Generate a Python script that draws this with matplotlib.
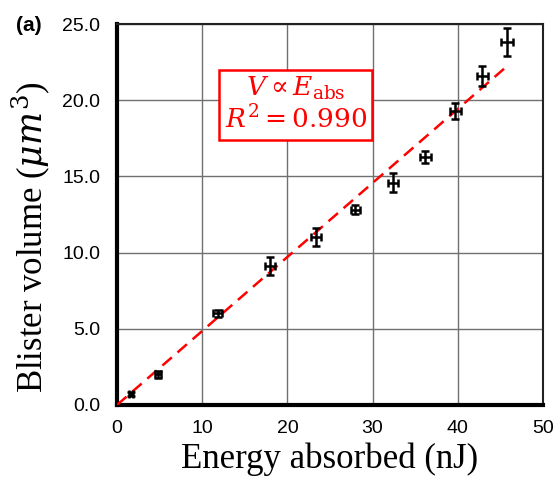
import numpy as np
import matplotlib.pyplot as plt
from matplotlib.ticker import FormatStrFormatter

plt.rcParams['mathtext.fontset'] = 'dejavuserif'

# 数据：吸收能量 (nJ) 与 气泡体积 (um^3)
energy = [1.6, 4.8, 11.8, 18.0, 23.4, 28.0, 32.4, 36.2, 39.7, 42.9, 45.8]
volume = [0.7, 2.0, 6.0, 9.1, 11.0, 12.8, 14.6, 16.3, 19.3, 21.6, 23.8]
energy_err = [0.25, 0.4, 0.55, 0.58, 0.58, 0.5, 0.62, 0.64, 0.65, 0.68, 0.7]
volume_err = [0.12, 0.25, 0.25, 0.6, 0.6, 0.3, 0.64, 0.4, 0.5, 0.68, 0.92]
r2_text = '0.990'

x = np.array(energy)
y = np.array(volume)
# 过原点线性拟合
slope = np.sum(x * y) / np.sum(x * x)

fig = plt.figure(figsize=(5.55, 4.82), dpi=100)
ax = fig.add_axes([0.211, 0.160, 0.767, 0.790])

xf = np.linspace(0, max(energy) - 0.3, 50)
ax.plot(xf, slope * xf, color='red', linestyle=(0, (5, 3)), linewidth=1.8, zorder=3)

ax.errorbar(energy, volume, xerr=energy_err, yerr=volume_err, fmt='none',
            ecolor='black', elinewidth=1.8, capsize=3, capthick=1.8, zorder=4)

ax.set_xlim(0, 50)
ax.set_ylim(0, 25)
ax.set_xticks(np.arange(0, 51, 10))
ax.set_yticks(np.arange(0, 25.1, 5))
ax.yaxis.set_major_formatter(FormatStrFormatter('%.1f'))
ax.grid(True, color='#707070', linewidth=1.0)
ax.set_axisbelow(True)
ax.tick_params(axis='y', length=0, pad=12, labelsize=14)
ax.tick_params(axis='x', length=0, pad=11, labelsize=14)
for lab in ax.get_xticklabels() + ax.get_yticklabels():
    lab.set_fontfamily('Liberation Sans')

ax.spines['left'].set_linewidth(3)
ax.spines['bottom'].set_linewidth(3)
ax.spines['top'].set_linewidth(1.5)
ax.spines['right'].set_linewidth(1.5)
ax.spines['top'].set_color('#222222')
ax.spines['right'].set_color('#222222')

ax.set_xlabel('Energy absorbed (nJ)', fontfamily='Liberation Serif', fontsize=25, labelpad=4)
ax.set_ylabel(r'Blister volume ($\mu m^3$)', fontfamily='Liberation Serif', fontsize=25)
ax.yaxis.set_label_coords(-0.154, 0.44)

ax.text(21.0, 19.7, '$V \\propto E_{\\mathrm{abs}}$\n$R^2 = ' + r2_text + '$',
        color='red', fontsize=19, ha='center', va='center', linespacing=1.15,
        bbox=dict(boxstyle='square,pad=0.2', facecolor='white', edgecolor='red', linewidth=1.8))

fig.text(0.029, 0.948, '(a)', fontfamily='Liberation Sans', fontweight='bold',
         fontsize=15, va='center')

fig.savefig('out.png', dpi=100)
